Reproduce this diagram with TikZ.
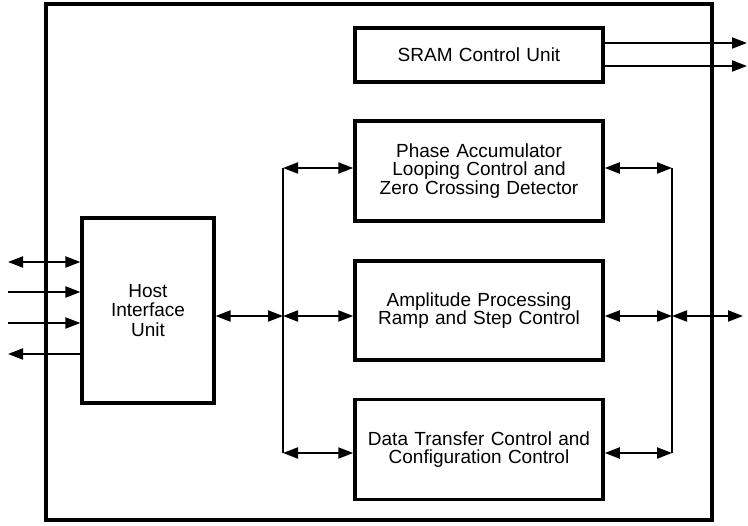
\documentclass[tikz,border=0pt]{standalone}
\usepackage{fontspec}
\setmainfont{Liberation Sans}
\usetikzlibrary{arrows.meta,positioning,calc}
\def\boxwid{248pt}
\def\boxhgt{100pt}
\def\lbus{283}
\def\rbus{672}

\begin{document}
\begin{tikzpicture}[
            x=1pt, y=-1pt,
            chipframe/.style={%
                line width=3.5pt, rectangle, draw=black, fill=none,%
                minimum width=666pt, minimum height=516pt, inner sep=0pt%
            },
            unit/.style={%
                line width=3.5pt, rectangle,%
                minimum width=\boxwid, minimum height=\boxhgt,%
                text centered, draw=black, fill=white, text width=230pt,%
                font=\fontsize{19}{17.5}\selectfont, inner sep=0pt%
            },
            hostunit/.style={%
                line width=3.2pt, rectangle,%
                minimum width=132pt, minimum height=185pt,%
                text centered, draw=black, fill=white, text width=110pt,%
                font=\fontsize{19}{19.5}\selectfont, inner sep=0pt%
            },
            arrow/.style={line width=2pt,-{Triangle[length=15pt,width=11pt]}},
            dblarrow/.style={line width=2pt,{Triangle[length=15pt,width=11pt]}-{Triangle[length=15pt,width=11pt]}},
            bus/.style={line width=2pt}
        ]
        \useasboundingbox (0,0) rectangle (748,526);

        % Define nodes
        \node (chip) [chipframe] at (379,262) {};

        \node (sram) [unit, minimum height=54pt] at (479,55) {%
            SRAM Control Unit
        };

        \node (phase) [unit] at (479,171) {%
            Phase Accumulator\\
            Looping Control and\\
            Zero Crossing Detector
        };

        \node (amp) [unit, minimum height=99pt] at (479,310.5) {%
            Amplitude Processing\\
            Ramp and Step Control
        };

        \node (xfer) [unit] at (479,449.5) {%
            Data Transfer Control and\\
            Configuration Control
        };

        \node (host) [hostunit] at (148,310.5) {%
            Host\\
            Interface\\
            Unit
        };

        % bus rails
        \coordinate (lbustop) at (\lbus,168);
        \coordinate (lbusmid) at (\lbus,316);
        \coordinate (lbusbot) at (\lbus,453);
        \coordinate (rbustop) at (\rbus,168);
        \coordinate (rbusmid) at (\rbus,316);
        \coordinate (rbusbot) at (\rbus,453);

        % free ends outside the chip
        \coordinate (pin1) at (8,262);
        \coordinate (pin2) at (8,292);
        \coordinate (pin3) at (8,323);
        \coordinate (pin4) at (8,354);
        \coordinate (sramout1) at (747,43);
        \coordinate (sramout2) at (747,66);
        \coordinate (dataout) at (743,316);

        \draw [bus] (lbustop) -- (lbusbot);
        \draw [bus] (rbustop) -- (rbusbot);

        \draw [dblarrow] (pin1) -- (pin1 -| host.west);
        \draw [arrow] (pin2) -- (pin2 -| host.west);
        \draw [arrow] (pin3) -- (pin3 -| host.west);
        \draw [arrow] (pin4 -| host.west) -- (pin4);

        \draw [dblarrow] (lbusmid -| host.east) -- (lbusmid);
        \draw [dblarrow] (lbustop) -- (lbustop -| phase.west);
        \draw [dblarrow] (lbusmid) -- (lbusmid -| amp.west);
        \draw [dblarrow] (lbusbot) -- (lbusbot -| xfer.west);

        \draw [dblarrow] (rbustop -| phase.east) -- (rbustop);
        \draw [dblarrow] (rbusmid -| amp.east) -- (rbusmid);
        \draw [dblarrow] (rbusbot -| xfer.east) -- (rbusbot);
        \draw [dblarrow] (rbusmid) -- (dataout);

        \draw [arrow] (sramout1 -| sram.east) -- (sramout1);
        \draw [arrow] (sramout2 -| sram.east) -- (sramout2);

\end{tikzpicture}
\end{document}
